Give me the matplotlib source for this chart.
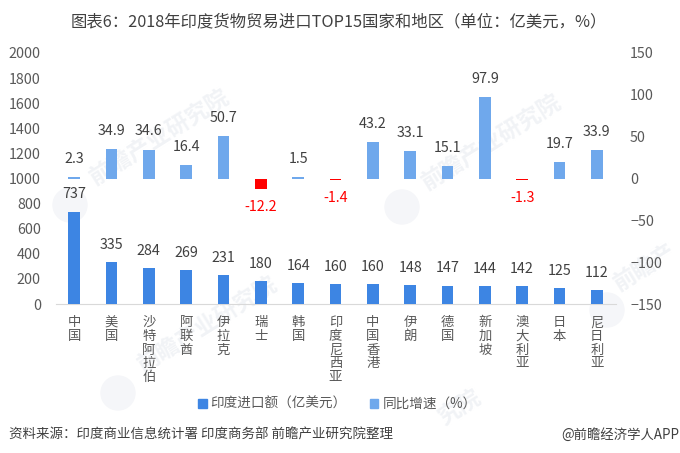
import matplotlib
matplotlib.use("Agg")
import matplotlib.pyplot as plt
from matplotlib.patches import Patch, Circle
from matplotlib.transforms import IdentityTransform

plt.rcParams['font.family'] = ['Noto Sans CJK SC', 'DejaVu Sans']

countries = ["中国", "美国", "沙特阿拉伯", "阿联酋", "伊拉克", "瑞士", "韩国", "印度尼西亚",
             "中国香港", "伊朗", "德国", "新加坡", "澳大利亚", "日本", "尼日利亚"]
imports = [737, 335, 284, 269, 231, 180, 164, 160, 160, 148, 147, 144, 142, 125, 112]
growth = [2.3, 34.9, 34.6, 16.4, 50.7, -12.2, 1.5, -1.4, 43.2, 33.1, 15.1, 97.9, -1.3, 19.7, 33.9]
left_ticks = list(range(0, 2001, 200))
right_ticks = list(range(-150, 151, 50))

GREY = "#595959"
DARK = "#3d85e3"
LIGHT = "#6fa8ec"
RED = "#ff0000"
WM = "#f1f3f6"
W, H = 680, 453

fig = plt.figure(figsize=(W / 100, H / 100), dpi=100, facecolor="white")
ax = fig.add_axes([55.5 / W, 1 - 304 / H, 560 / W, 251 / H])
ax2 = ax.twinx()
x = list(range(len(countries)))

# faint watermarks, behind the chart (pixel positions from the top-left corner)
for wx, wy, txt in [(160, 138, "前瞻产业研究院"), (492, 143, "前瞻产业研究院"),
                    (208, 325, "前瞻产业研究院"), (645, 268, "前瞻产"), (460, 408, "究院")]:
    fig.text(wx / W, 1 - wy / H, txt, fontsize=16.5, fontweight="bold", color=WM,
             rotation=32, ha="center", va="center", zorder=-2)
for lx, ly in [(70, 205), (402, 207), (118, 393), (607, 310)]:
    fig.add_artist(Circle((lx, H - ly), 17, transform=IdentityTransform(), color="#f5f6f9", zorder=-2))

ax.bar(x, imports, width=0.32, color=DARK, zorder=3)
bar_colors = [LIGHT if v >= 0 else RED for v in growth]
ax2.bar(x, growth, width=0.32, color=bar_colors, zorder=3)

ax.set_xlim(-0.5, len(x) - 0.5)
ax.set_ylim(0, 2000)
ax2.set_ylim(-150, 150)
ax.set_yticks(left_ticks)
ax2.set_yticks(right_ticks)
ax.set_xticks(x)
ax.set_xticklabels(["\n".join(c) for c in countries], linespacing=0.98, va="top")
ax.tick_params(axis="x", length=0, pad=8, labelsize=9.6, labelcolor=GREY)
ax.tick_params(axis="y", length=0, pad=10.5, labelsize=10.3, labelcolor=GREY)
ax2.tick_params(axis="y", length=0, pad=10.5, labelsize=10.3, labelcolor=GREY)

for a in (ax, ax2):
    for s in a.spines.values():
        s.set_visible(False)
    a.patch.set_alpha(0)
ax.spines["bottom"].set_visible(True)
ax.spines["bottom"].set_color("#d9d9d9")

for xi, v in zip(x, imports):
    ax.annotate(str(v), (xi, v), xytext=(0, 12.5), textcoords="offset points",
                ha="center", va="center", fontsize=10.3, color="#404040", zorder=5)
for xi, v in zip(x, growth):
    up = v >= 0
    ax2.annotate(str(v), (xi, v), xytext=(0, 13 if up else -13.5), textcoords="offset points",
                 ha="center", va="center", fontsize=10.3, color="#404040" if up else RED, zorder=5)

fig.text(339 / W, 1 - 22 / H, "图表6：2018年印度货物贸易进口TOP15国家和地区（单位：亿美元，%）",
         fontsize=11.75, color="#404040", ha="center", va="center")

handles = [Patch(color=DARK, label="印度进口额（亿美元）"), Patch(color=LIGHT, label="同比增速（%）")]
fig.legend(handles=handles, ncol=2, frameon=False, loc="center", fontsize=9.8,
           bbox_to_anchor=(337.5 / W, 1 - 404 / H), handlelength=0.6, handleheight=0.6,
           handletextpad=0.3, columnspacing=1.7, labelcolor=GREY)

fig.text(9 / W, 1 - 435 / H, "资料来源：印度商业信息统计署 印度商务部 前瞻产业研究院整理",
         fontsize=9.7, color="#404040", style="italic", ha="left", va="center")
fig.text(679 / W, 1 - 435 / H, "@前瞻经济学人APP", fontsize=9.6, color="#404040",
         ha="right", va="center")

fig.savefig("out.png", dpi=100)
